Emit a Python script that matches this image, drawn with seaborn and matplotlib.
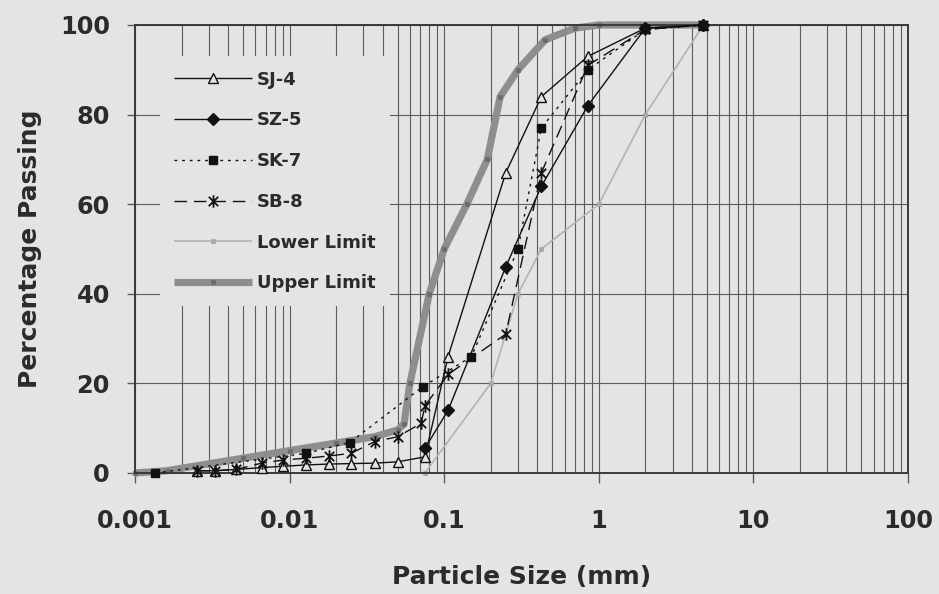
import matplotlib
matplotlib.use("Agg")
import matplotlib.pyplot as plt
from matplotlib.path import Path
from matplotlib.ticker import FixedLocator, FixedFormatter, LogLocator, NullFormatter
import seaborn as sns

# Particle size (mm) and percentage passing for each sample
sj4_size = [0.0025, 0.0033, 0.0045, 0.0066, 0.0091, 0.0128, 0.018, 0.025, 0.0355, 0.05,
            0.075, 0.106, 0.25, 0.425, 0.85, 2.0, 4.75]
sj4_pass = [0.5, 0.5, 0.8, 1.2, 1.5, 1.8, 2.0, 2.1, 2.2, 2.5,
            3.6, 26.0, 67.0, 84.0, 93.0, 99.3, 100.0]

sz5_size = [0.075, 0.106, 0.25, 0.425, 0.85, 2.0, 4.75]
sz5_pass = [5.5, 14.0, 46.0, 64.0, 82.0, 99.3, 100.0]

sk7_size = [0.00135, 0.0128, 0.0245, 0.073, 0.15, 0.3, 0.425, 0.85, 2.0, 4.75]
sk7_pass = [0.0, 4.4, 6.8, 19.3, 26.0, 50.0, 77.0, 90.0, 99.0, 100.0]

sb8_size = [0.0025, 0.0033, 0.0045, 0.0066, 0.0091, 0.0128, 0.018, 0.025, 0.0355, 0.05,
            0.071, 0.075, 0.106, 0.25, 0.425, 0.85, 2.0, 4.75]
sb8_pass = [0.5, 0.5, 0.8, 2.2, 2.9, 3.3, 3.8, 4.4, 7.0, 8.1,
            11.1, 15.0, 22.0, 31.0, 67.0, 91.0, 99.0, 100.0]

# Grading envelope
lower_size = [0.075, 0.2, 0.3, 0.425, 1.0, 2.0, 4.75]
lower_pass = [0.0, 20.0, 40.0, 50.0, 60.0, 80.0, 100.0]

upper_size = [0.001, 0.0016, 0.005, 0.01, 0.02, 0.0355, 0.05, 0.055, 0.06, 0.08, 0.1,
              0.14, 0.19, 0.23, 0.3, 0.45, 0.7, 1.0, 2.0, 4.75]
upper_pass = [0.0, 0.5, 3.3, 5.0, 6.7, 8.1, 9.6, 11.0, 20.0, 40.0, 50.0,
              60.0, 70.0, 84.0, 90.0, 96.7, 99.3, 100.0, 100.0, 100.0]

x_ticks = [0.001, 0.01, 0.1, 1, 10, 100]
x_tick_labels = ["0.001", "0.01", "0.1", "1", "10", "100"]
y_ticks = [0, 20, 40, 60, 80, 100]

bg = "#e4e4e4"
ink = "#2b2b2b"
grid_c = "#5c5c5c"

sns.set_theme(style="white")
plt.rcParams["font.family"] = ["DejaVu Sans"]
plt.rcParams["font.weight"] = "bold"

fig = plt.figure(figsize=(9.39, 5.94), dpi=100, facecolor=bg)
ax = fig.add_axes([135 / 939, 1 - 473 / 594, 773 / 939, 448 / 594])
ax.set_facecolor(bg)
ax.set_xscale("log")

# asterisk-style marker: vertical bar plus an X
star = Path([(0, -1), (0, 1), (-0.75, -0.75), (0.75, 0.75), (-0.75, 0.75), (0.75, -0.75)],
            [Path.MOVETO, Path.LINETO] * 3)


def draw(size, passing, label, **kw):
    sns.lineplot(x=size, y=passing, ax=ax, label=label, sort=False,
                 estimator=None, clip_on=False, solid_capstyle="butt", **kw)


draw(upper_size, upper_pass, "Upper Limit", color="#8e8e8e", linewidth=5.2,
     marker="s", markersize=3.2, markerfacecolor="#6a6a6a",
     markeredgecolor="#6a6a6a", markeredgewidth=0.5, zorder=2)
draw(lower_size, lower_pass, "Lower Limit", color="#b3b3b3", linewidth=1.2,
     marker="s", markersize=3.2, markerfacecolor="#a8a8a8",
     markeredgecolor="#a8a8a8", markeredgewidth=0.5, zorder=2)
draw(sj4_size, sj4_pass, "SJ-4", color="#111111", linewidth=1.0,
     marker="^", markersize=7, markerfacecolor=bg,
     markeredgecolor="#111111", markeredgewidth=1.0, zorder=4)
draw(sz5_size, sz5_pass, "SZ-5", color="#111111", linewidth=1.0,
     marker="D", markersize=6, markerfacecolor="#111111",
     markeredgecolor="#111111", markeredgewidth=1.0, zorder=4)
draw(sk7_size, sk7_pass, "SK-7", color="#111111", linewidth=1.0,
     linestyle=(0, (2, 3.5)), marker="s", markersize=6, markerfacecolor="#111111",
     markeredgecolor="#111111", markeredgewidth=1.0, zorder=4)
draw(sb8_size, sb8_pass, "SB-8", color="#111111", linewidth=1.0,
     linestyle=(0, (9, 5)), marker=star, markersize=9, markerfacecolor="none",
     markeredgecolor="#111111", markeredgewidth=1.3, zorder=4)

ax.set_xlim(0.001, 100)
ax.set_ylim(0, 100)

ax.xaxis.set_major_locator(FixedLocator(x_ticks))
ax.xaxis.set_major_formatter(FixedFormatter(x_tick_labels))
ax.xaxis.set_minor_locator(LogLocator(base=10, subs=[2, 3, 4, 5, 6, 7, 8, 9], numticks=20))
ax.xaxis.set_minor_formatter(NullFormatter())
ax.yaxis.set_major_locator(FixedLocator(y_ticks))

ax.grid(True, which="both", axis="x", color=grid_c, linewidth=0.8)
ax.grid(True, which="major", axis="y", color=grid_c, linewidth=0.8)
ax.set_axisbelow(True)

for s in ax.spines.values():
    s.set_visible(True)
    s.set_color("#3a3a3a")
    s.set_linewidth(1.4)

ax.tick_params(axis="x", which="major", bottom=True, direction="out", length=7,
               width=1, color=grid_c, labelsize=17.3, labelcolor=ink, pad=19)
ax.tick_params(axis="x", which="minor", bottom=False, length=0)
ax.tick_params(axis="y", which="major", left=True, direction="out", length=6,
               width=1, color=grid_c, labelsize=17.3, labelcolor=ink, pad=12)

ax.set_xlabel("Particle Size (mm)", fontsize=18, fontweight="bold", color=ink)
ax.set_ylabel("Percentage Passing", fontsize=18, fontweight="bold", color=ink)
ax.xaxis.set_label_coords(0.5, (473 - 565) / 448)
ax.yaxis.set_label_coords((42 - 135) / 773, 0.5)

handles, labels = ax.get_legend_handles_labels()
order = ["SJ-4", "SZ-5", "SK-7", "SB-8", "Lower Limit", "Upper Limit"]
hmap = dict(zip(labels, handles))
leg = ax.legend([hmap[k] for k in order], order, loc="upper left",
                bbox_to_anchor=(0.0323, 0.9297), borderaxespad=0, frameon=True,
                facecolor=bg, edgecolor="none", framealpha=1, fancybox=False,
                prop=dict(weight="bold", size=13), handlelength=4.3,
                handletextpad=0.3, labelspacing=1.26, borderpad=0.78, numpoints=1)
for t in leg.get_texts():
    t.set_color(ink)

fig.savefig("out.png", dpi=100, facecolor=bg)
